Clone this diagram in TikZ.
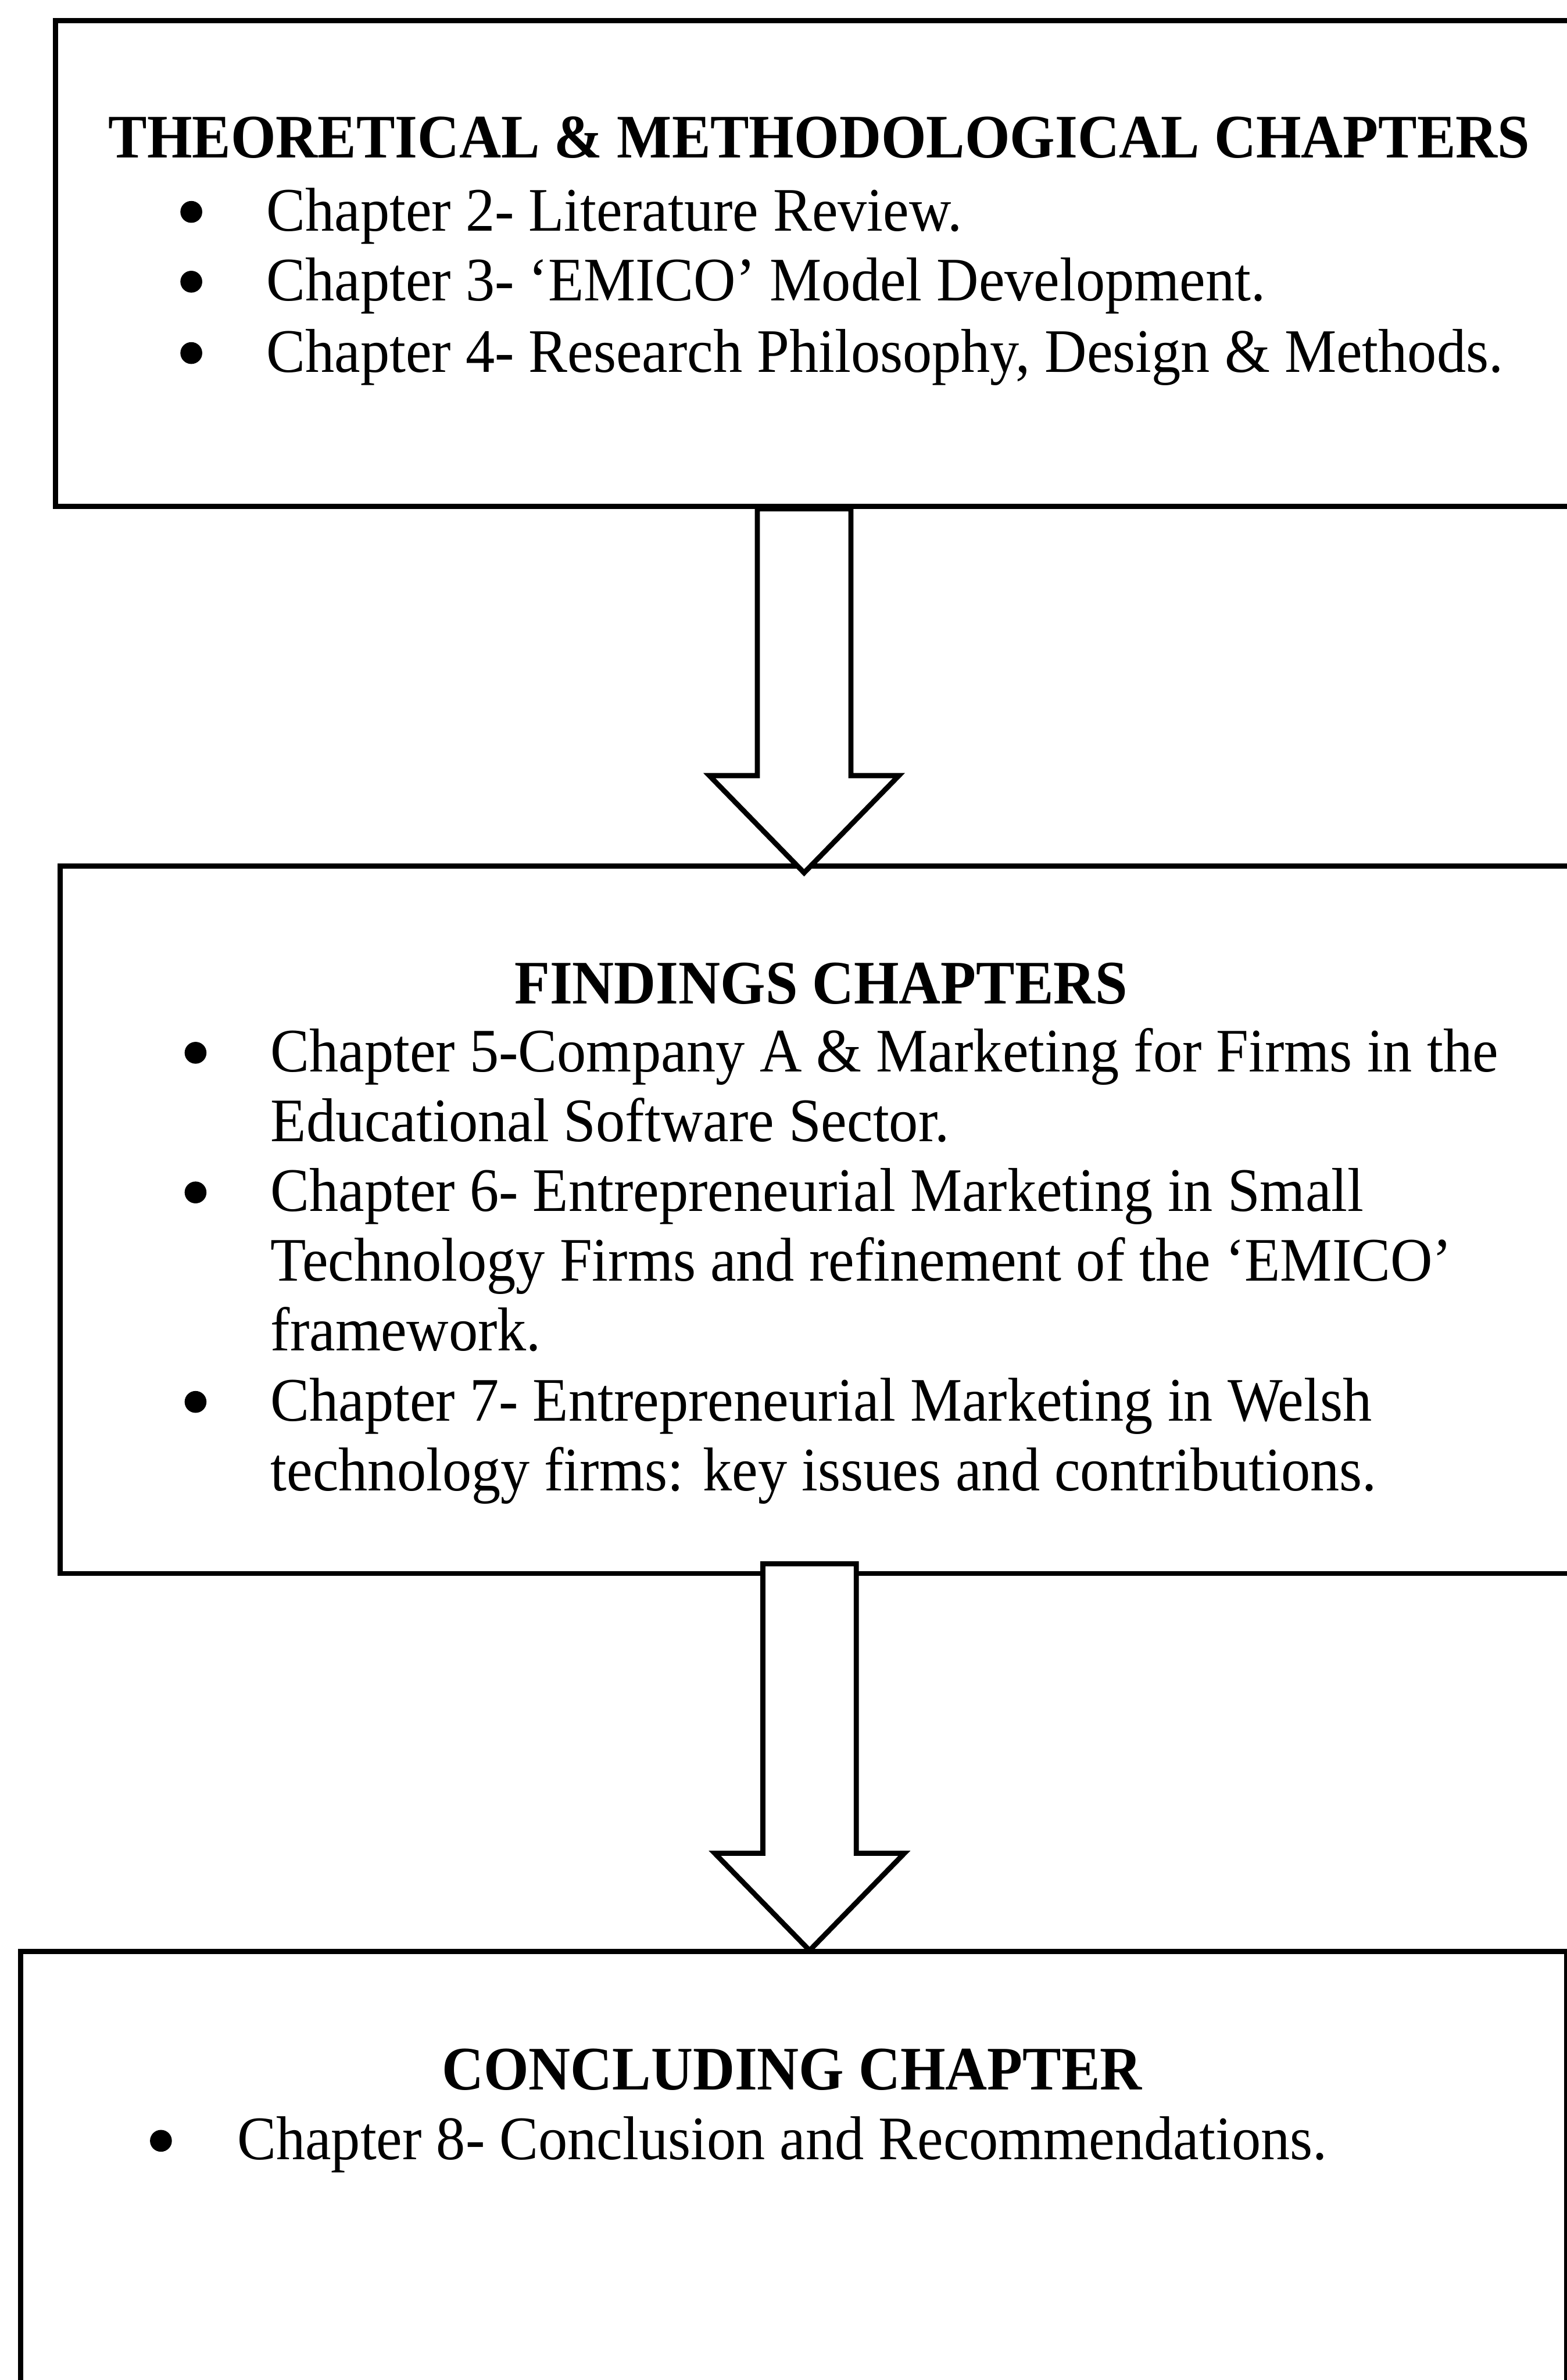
\documentclass[tikz,border=0pt]{standalone}
\usepackage{fontspec}
\setmainfont{Liberation Serif}[FakeStretch=0.942, BoldFeatures={FakeStretch=0.936}]
\usetikzlibrary{calc}

% hollow block arrow: #1 top of the shaft, #2 the tip
\newcommand{\blockarrow}[2]{%
  \draw[bigarrow] ($(#1)+(-0.77,0)$) -- ($(#2)+(-0.77,1.6)$) -- ($(#2)+(-1.56,1.6)$) -- (#2)
    -- ($(#2)+(1.56,1.6)$) -- ($(#2)+(0.77,1.6)$) -- ($(#1)+(0.77,0)$) -- cycle;}

\begin{document}
\begin{tikzpicture}[
    chapbox/.style = {draw, line width=2.3pt, anchor=north west, inner sep=0pt},
    bigarrow/.style = {draw, fill=white, line width=2.4pt, line join=miter},
    heading/.style = {anchor=base, font=\fontsize{29}{34}\selectfont\bfseries},
    entry/.style = {anchor=base west, inner sep=0pt, font=\fontsize{29}{34}\selectfont},
    dot/.style = {circle, fill, inner sep=0pt, minimum size=0.36cm, yshift=0.31cm}
]
    \fill[white] (0,0) rectangle (25.8,-39.2);
    \useasboundingbox (0,0) rectangle (25.8,-39.2);

    % the three boxes
    \node[chapbox, minimum width=25.3cm, minimum height=8cm] (theory) at (0.875,-0.3) {};
    \node[chapbox, minimum width=25.3cm, minimum height=11.65cm] (findings) at (0.95,-14.225) {};
    \node[chapbox, minimum width=25.45cm, minimum height=7.6cm] (concl) at (0.3,-32.1) {};

    % arrows between the boxes
    \coordinate (shaftA) at ($(theory.south west)+(12.365,0)$);
    \coordinate (tipA) at ($(findings.north west)+(12.29,-0.15)$);
    \blockarrow{shaftA}{tipA}
    \coordinate (shaftB) at ($(findings.south west)+(12.38,0.2)$);
    \coordinate (tipB) at ($(concl.north west)+(13.03,-0.025)$);
    \blockarrow{shaftB}{tipB}

    % theoretical chapters
    \node[heading] (theoryhead) at (13.49,-2.6) {THEORETICAL \& METHODOLOGICAL CHAPTERS};
    \node[dot] (d2) at (3.15,-3.8) {};
    \node[entry] (ch2) at (4.38,-3.8) {Chapter 2- Literature Review.};
    \node[dot] (d3) at (3.15,-4.95) {};
    \node[entry] (ch3) at (4.38,-4.95) {Chapter 3- ‘EMICO’ Model Development.};
    \node[dot] (d4) at (3.15,-6.125) {};
    \node[entry] (ch4) at (4.38,-6.125) {Chapter 4- Research Philosophy, Design \& Methods.};

    % findings chapters
    \node[heading] (findhead) at (13.52,-16.53) {FINDINGS CHAPTERS};
    \node[dot] (d5) at (3.22,-17.65) {};
    \node[entry] (ch5) at (4.45,-17.65) {Chapter 5-Company A \& Marketing for Firms in the};
    \node[entry] (ch5b) at (4.45,-18.8) {Educational Software Sector.};
    \node[dot] (d6) at (3.22,-19.95) {};
    \node[entry] (ch6) at (4.45,-19.95) {Chapter 6- Entrepreneurial Marketing in Small};
    \node[entry] (ch6b) at (4.45,-21.1) {Technology Firms and refinement of the ‘EMICO’};
    \node[entry] (ch6c) at (4.45,-22.25) {framework.};
    \node[dot] (d7) at (3.22,-23.4) {};
    \node[entry] (ch7) at (4.45,-23.4) {Chapter 7- Entrepreneurial Marketing in Welsh};
    \node[entry] (ch7b) at (4.45,-24.55) {technology firms: key issues and contributions.};

    % concluding chapter
    \node[heading] (conclhead) at (13.04,-34.42) {CONCLUDING CHAPTER};
    \node[dot] (d8) at (2.65,-35.57) {};
    \node[entry] (ch8) at (3.9,-35.57) {Chapter 8- Conclusion and Recommendations.};
\end{tikzpicture}
\end{document}
